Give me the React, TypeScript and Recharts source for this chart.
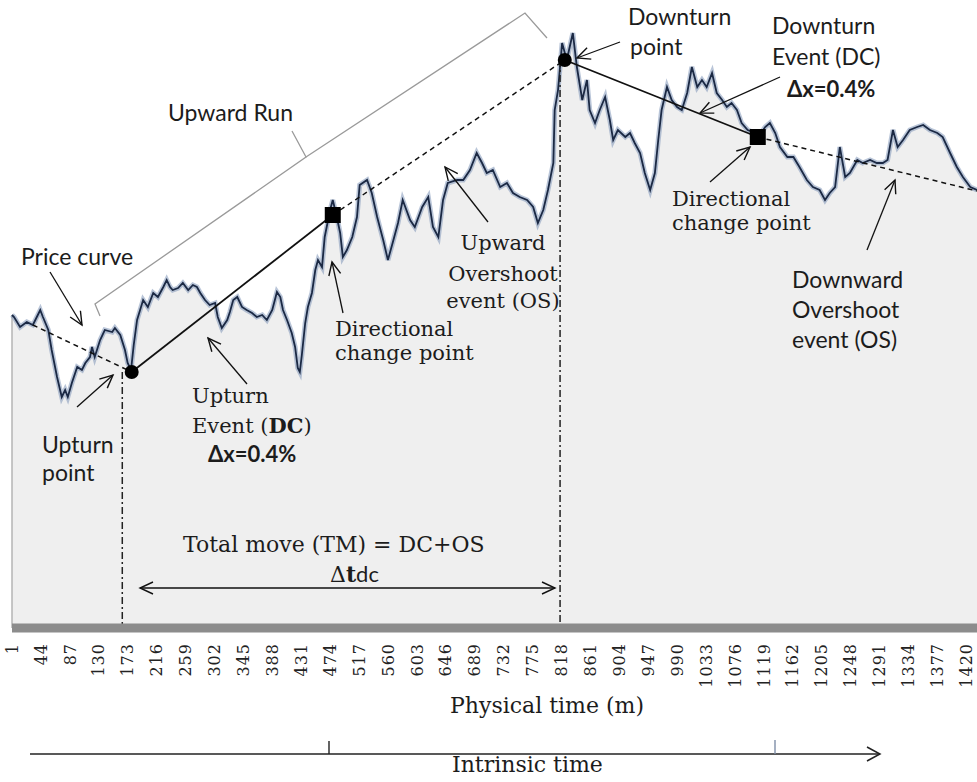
import React from 'react';
import { ComposedChart, Area, Line, XAxis, YAxis, ReferenceLine, ReferenceDot } from 'recharts';

// Physical time (minutes) and price index
const MINUTES = [
  1, 4, 13, 23, 32, 43, 47, 55, 60, 68,
  75, 80, 84, 90, 98, 105, 110, 117, 120, 124,
  132, 139, 150, 154, 162, 169, 173, 178, 182, 187,
  196, 203, 211, 218, 226, 231, 236, 240, 248, 255,
  263, 270, 276, 281, 288, 295, 303, 307, 313, 321,
  325, 330, 336, 343, 350, 358, 365, 373, 380, 388,
  395, 400, 404, 410, 417, 422, 426, 429, 432, 437,
  441, 447, 452, 456, 462, 466, 474, 478, 484, 489,
  493, 499, 507, 514, 518, 529, 536, 544, 553, 560,
  567, 575, 582, 593, 600, 611, 620, 627, 635, 642,
  649, 663, 672, 682, 692, 700, 707, 716, 727, 737,
  746, 756, 767, 776, 783, 791, 798, 806, 808, 813,
  819, 826, 835, 841, 849, 856, 860, 868, 875, 883,
  890, 895, 902, 913, 920, 927, 935, 942, 950, 957,
  962, 967, 975, 982, 990, 997, 1005, 1012, 1020, 1027,
  1034, 1042, 1049, 1057, 1064, 1071, 1079, 1086, 1095, 1106,
  1113, 1121, 1128, 1136, 1143, 1154, 1163, 1172, 1183, 1192,
  1202, 1210, 1217, 1225, 1232, 1240, 1247, 1258, 1266, 1277,
  1287, 1296, 1303, 1311, 1318, 1326, 1336, 1347, 1356, 1366,
  1377, 1385, 1396, 1406, 1415, 1426, 1436,
];
const PRICES = [
  313, 311, 301, 306, 303, 318, 311, 298, 278, 251,
  231, 238, 231, 245, 261, 258, 265, 271, 281, 271,
  288, 298, 296, 300, 293, 278, 265, 258, 283, 308,
  328, 321, 335, 331, 341, 348, 341, 338, 340, 345,
  338, 343, 341, 335, 328, 323, 325, 311, 300, 308,
  316, 328, 331, 321, 318, 315, 311, 313, 308, 318,
  336, 331, 318, 308, 295, 281, 260, 256, 273, 305,
  321, 335, 358, 368, 361, 391, 418, 428, 411, 395,
  371, 378, 391, 411, 443, 448, 435, 411, 388, 368,
  385, 405, 428, 408, 401, 421, 431, 401, 391, 428,
  445, 448, 448, 458, 475, 465, 455, 458, 441, 445,
  435, 431, 428, 421, 405, 418, 438, 465, 518, 538,
  585, 568, 595, 561, 528, 548, 518, 505, 518, 531,
  508, 488, 498, 491, 495, 485, 475, 455, 438, 455,
  488, 518, 541, 528, 521, 518, 535, 561, 541, 548,
  541, 555, 535, 528, 521, 525, 518, 505, 498, 495,
  493, 501, 505, 495, 481, 471, 471, 461, 448, 441,
  438, 428, 435, 441, 481, 451, 455, 468, 465, 468,
  465, 465, 468, 498, 481, 488, 498, 501, 503, 498,
  495, 491, 475, 461, 451, 441, 438,
];

const TICKS = [
  1, 44, 87, 130, 173, 216, 259, 302, 345, 388, 431, 474, 517, 560, 603, 646, 689,
  732, 775, 818, 861, 904, 947, 990, 1033, 1076, 1119, 1162, 1205, 1248, 1291, 1334, 1377, 1420,
];

// Directional-change trend path: start, upturn, DC confirm, downturn, DC confirm, end
const TREND_MIN = [32, 179, 478, 823, 1110, 1436];
const TREND_VAL = [303, 256, 413, 568, 491, 437];
const TREND_DASHED = [true, false, true, false, true];
const TREND_MARK = ['none', 'circle', 'square', 'circle', 'square', 'none'];

// vertical markers of the DC period (upturn / downturn time)
const VLINE_MIN = [165, 816];
const VLINE_TOP = [256, 568];

const data = MINUTES.map((m, i) => ({ m, v: PRICES[i] }));

const SERIF = '"DejaVu Serif", serif';
const SANS = 'Lato, "Open Sans", sans-serif';
const INK = '#1c1c1c';

const Tick = (props: any) => {
  const { x, y, payload } = props;
  return (
    <text
      x={x}
      y={y}
      transform={`rotate(-90, ${x}, ${y})`}
      textAnchor="end"
      dy="0.36em"
      fontFamily={SERIF}
      fontSize={16}
      letterSpacing={1}
      fill="#222"
    >
      {payload.value}
    </text>
  );
};

const Square = (p: any) => (
  <rect x={p.cx - 8} y={p.cy - 8} width={16} height={16} fill="#000" />
);

const ARROWS: [number, number, number, number][] = [
  [50, 272, 82, 325],
  [77, 407, 113, 375],
  [247, 384, 208, 338],
  [343, 313, 332, 262],
  [488, 222, 445, 167],
  [620, 42, 577, 58],
  [780, 77, 700, 113],
  [710, 182, 750, 147],
  [867, 250, 895, 180],
];

export default function App() {
  return (
    <div style={{ position: 'absolute', left: 0, top: 0, width: 977, height: 782, background: '#fff' }}>
      <ComposedChart
        width={977}
        height={782}
        data={data}
        margin={{ top: 0, right: 0, bottom: 94, left: 12 }}
      >
        <XAxis
          dataKey="m"
          type="number"
          domain={[1, 1436]}
          ticks={TICKS}
          interval={0}
          tickLine={false}
          tickSize={0}
          tickMargin={15}
          height={60}
          axisLine={{ stroke: '#8c8c8c', strokeWidth: 9 }}
          tick={<Tick />}
        />
        <YAxis hide domain={[0, 628]} type="number" />
        <Area
          dataKey="v"
          type="linear"
          stroke="none"
          fill="#efefef"
          fillOpacity={1}
          isAnimationActive={false}
          baseValue={0}
        />
        <ReferenceLine
          segment={[{ x: 1, y: 0 }, { x: 1, y: PRICES[0] }]}
          stroke="#b5b5b5"
          strokeWidth={1.5}
        />
        <Line
          dataKey="v"
          type="linear"
          stroke="#7f96b8"
          strokeOpacity={0.55}
          strokeWidth={5}
          dot={false}
          isAnimationActive={false}
        />
        <Line
          dataKey="v"
          type="linear"
          stroke="#1b2944"
          strokeWidth={1.8}
          dot={false}
          isAnimationActive={false}
        />
        {TREND_DASHED.map((dashed, i) => (
          <ReferenceLine
            key={'t' + i}
            segment={[
              { x: TREND_MIN[i], y: TREND_VAL[i] },
              { x: TREND_MIN[i + 1], y: TREND_VAL[i + 1] },
            ]}
            stroke="#111"
            strokeWidth={dashed ? 1.5 : 1.8}
            strokeDasharray={dashed ? '5 4' : undefined}
          />
        ))}
        {VLINE_MIN.map((m, i) => (
          <ReferenceLine
            key={'v' + i}
            segment={[{ x: m, y: VLINE_TOP[i] }, { x: m, y: 0 }]}
            stroke="#222"
            strokeWidth={1.5}
            strokeDasharray="7 3 2 3"
          />
        ))}
        {TREND_MARK.map((mk, i) =>
          mk === 'none' ? null : (
            <ReferenceDot
              key={'d' + i}
              x={TREND_MIN[i]}
              y={TREND_VAL[i]}
              r={7}
              fill="#000"
              stroke="none"
              shape={mk === 'square' ? Square : undefined}
            />
          )
        )}
      </ComposedChart>
      <svg
        width={977}
        height={782}
        style={{ position: 'absolute', left: 0, top: 0, pointerEvents: 'none' }}
      >
        <defs>
          <marker id="ah" markerWidth="16" markerHeight="16" refX="14" refY="7" orient="auto-start-reverse" markerUnits="userSpaceOnUse">
            <path d="M1,1 L14,7 L1,13" fill="none" stroke="#111" strokeWidth="1.4" />
          </marker>
          <marker id="ahg" markerWidth="16" markerHeight="18" refX="14" refY="8" orient="auto" markerUnits="userSpaceOnUse">
            <path d="M1,1 L14,8 L1,15" fill="none" stroke="#222" strokeWidth="1.5" />
          </marker>
        </defs>
        {/* Upward run bracket */}
        <polyline points="100,316 95,304 306,157 292,131" fill="none" stroke="#9a9a9a" strokeWidth={1.3} />
        <polyline points="306,157 525,13 547,38" fill="none" stroke="#9a9a9a" strokeWidth={1.3} />
        {ARROWS.map((a, i) => (
          <line key={i} x1={a[0]} y1={a[1]} x2={a[2]} y2={a[3]} stroke="#111" strokeWidth={1.3} markerEnd="url(#ah)" />
        ))}
        {/* delta t double arrow */}
        <line x1={140} y1={588} x2={555} y2={588} stroke="#111" strokeWidth={1.4} markerStart="url(#ah)" markerEnd="url(#ah)" />
        {/* intrinsic time axis */}
        <line x1={30} y1={754} x2={880} y2={754} stroke="#222" strokeWidth={1.6} markerEnd="url(#ahg)" />
        <line x1={329} y1={741} x2={329} y2={754} stroke="#222" strokeWidth={1.4} />
        <line x1={775} y1={740} x2={775} y2={754} stroke="#7f8fa8" strokeWidth={1.4} />

        <g fontFamily={SANS} fontSize={23} fill={INK}>
          <text x={168} y={121}>Upward Run</text>
          <text x={21} y={265}>Price curve</text>
          <text x={42} y={453}>Upturn</text>
          <text x={42} y={481}>point</text>
          <text x={628} y={25}>Downturn</text>
          <text x={630} y={55}>point</text>
          <text x={772} y={34}>Downturn</text>
          <text x={772} y={65}>Event (DC)</text>
          <text x={792} y={288}>Downward</text>
          <text x={792} y={318}>Overshoot</text>
          <text x={792} y={348}>event (OS)</text>
          <text x={787} y={97} fontWeight="bold" fontSize={22}>Δx=0.4%</text>
          <text x={208} y={462} fontWeight="bold" fontSize={22}>Δx=0.4%</text>
        </g>
        <g fontFamily={SERIF} fontSize={21} fill={INK}>
          <text x={192} y={403}>Upturn</text>
          <text x={192} y={433}>
            Event (<tspan fontWeight="bold">DC</tspan>)
          </text>
          <text x={335} y={336}>Directional</text>
          <text x={335} y={360}>change point</text>
          <text x={503} y={250} textAnchor="middle">Upward</text>
          <text x={503} y={281} textAnchor="middle">Overshoot</text>
          <text x={503} y={308} textAnchor="middle">event (OS)</text>
          <text x={672} y={206}>Directional</text>
          <text x={672} y={230}>change point</text>
          <text x={183} y={552} fontSize={22}>Total move (TM) = DC+OS</text>
          <text x={330} y={582} fontSize={22}>
            Δ<tspan fontWeight="bold">t</tspan>
            <tspan fontFamily={SANS}>dc</tspan>
          </text>
          <text x={450} y={713} fontSize={22}>Physical time (m)</text>
          <text x={452} y={772} fontSize={22}>Intrinsic time</text>
        </g>
      </svg>
    </div>
  );
}
